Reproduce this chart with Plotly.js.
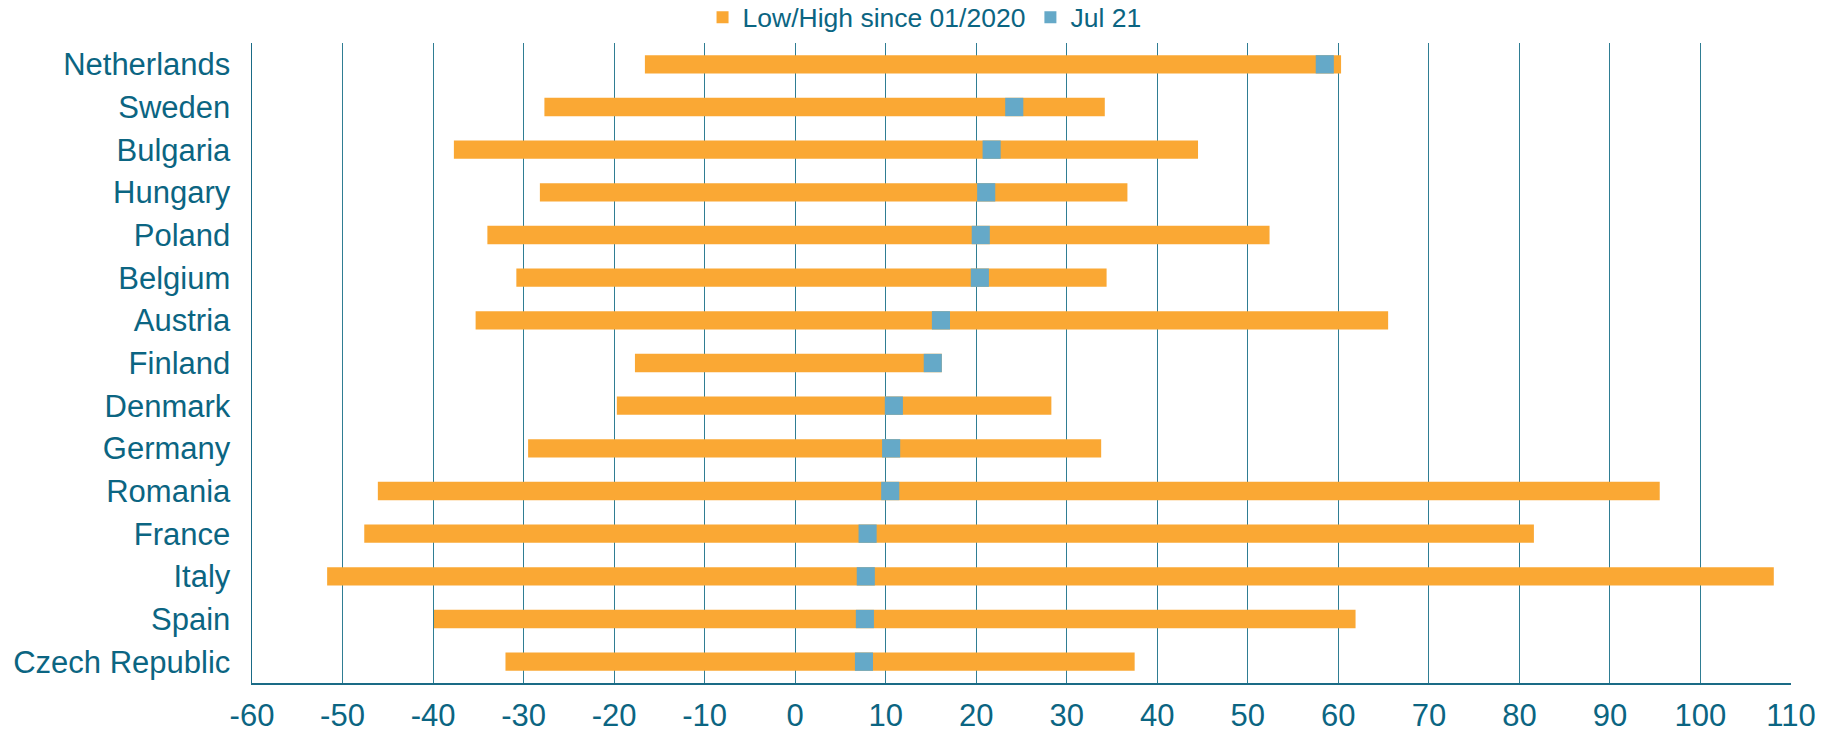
<!DOCTYPE html>
<html>
<head>
<meta charset="utf-8">
<script src="https://cdn.plot.ly/plotly-3.0.1.min.js"></script>
<style>html,body{margin:0;padding:0;background:#fff;}#chart{width:1826px;height:735px;}</style>
</head>
<body>
<div id="chart"></div>
<script>
const countries = ["Netherlands","Sweden","Bulgaria","Hungary","Poland","Belgium","Austria","Finland","Denmark","Germany","Romania","France","Italy","Spain","Czech Republic"];
const lowValues  = [-16.6,-27.7,-37.7,-28.2,-34.0,-30.8,-35.3,-17.7,-19.7,-29.5,-46.1,-47.6,-51.7,-39.9,-32.0];
const highValues = [60.3,34.2,44.5,36.7,52.4,34.4,65.5,16.2,28.3,33.8,95.5,81.6,108.1,61.9,37.5];
const jul21Values = [58.5,24.2,21.7,21.1,20.5,20.4,16.1,15.2,10.9,10.6,10.5,8.0,7.8,7.7,7.6];
const xTicks = [-60,-50,-40,-30,-20,-10,0,10,20,30,40,50,60,70,80,90,100,110];

const MARK_W = 2.0;
const textColor = '#0B6582';

const rangeTrace = {
  type: 'bar', orientation: 'h', name: 'Low/High since 01/2020',
  y: countries,
  base: lowValues,
  x: highValues.map((h, i) => h - lowValues[i]),
  marker: {color: '#FAA834'},
  hoverinfo: 'skip'
};
const julTrace = {
  type: 'bar', orientation: 'h', name: 'Jul 21',
  y: countries,
  base: jul21Values.map(v => v - MARK_W / 2),
  x: jul21Values.map(() => MARK_W),
  marker: {color: '#65A9C8'},
  hoverinfo: 'skip'
};

const layout = {
  width: 1826, height: 735,
  margin: {l: 252, r: 35, t: 43, b: 52, autoexpand: false},
  paper_bgcolor: '#fff', plot_bgcolor: '#fff',
  barmode: 'overlay', bargap: 0.57,
  font: {family: 'Liberation Sans, Arial, sans-serif', color: textColor},
  showlegend: true,
  legend: {orientation: 'h', x: 0.437, xanchor: 'center', y: 1.04, yanchor: 'middle',
           font: {size: 26.5, color: textColor}, traceorder: 'normal', itemwidth: 30},
  xaxis: {
    range: [-60, 110], tickvals: xTicks, ticktext: xTicks.map(String),
    showgrid: true, gridcolor: '#2F7D93', gridwidth: 1,
    zeroline: false, showline: true, linecolor: '#1A6B86', linewidth: 1.5,
    ticks: '', tickfont: {size: 31, color: textColor}, ticklabelstandoff: 4,
    fixedrange: true
  },
  yaxis: {
    categoryorder: 'array', categoryarray: countries.slice().reverse(),
    range: [-0.5, countries.length - 0.5],
    showgrid: false, zeroline: false, showline: true, linecolor: '#1A6B86', linewidth: 1.5,
    ticks: '', tickfont: {size: 31, color: textColor}, ticklabelstandoff: 14,
    fixedrange: true
  }
};

Plotly.newPlot('chart', [rangeTrace, julTrace], layout, {displayModeBar: false, staticPlot: true});
</script>
</body>
</html>
